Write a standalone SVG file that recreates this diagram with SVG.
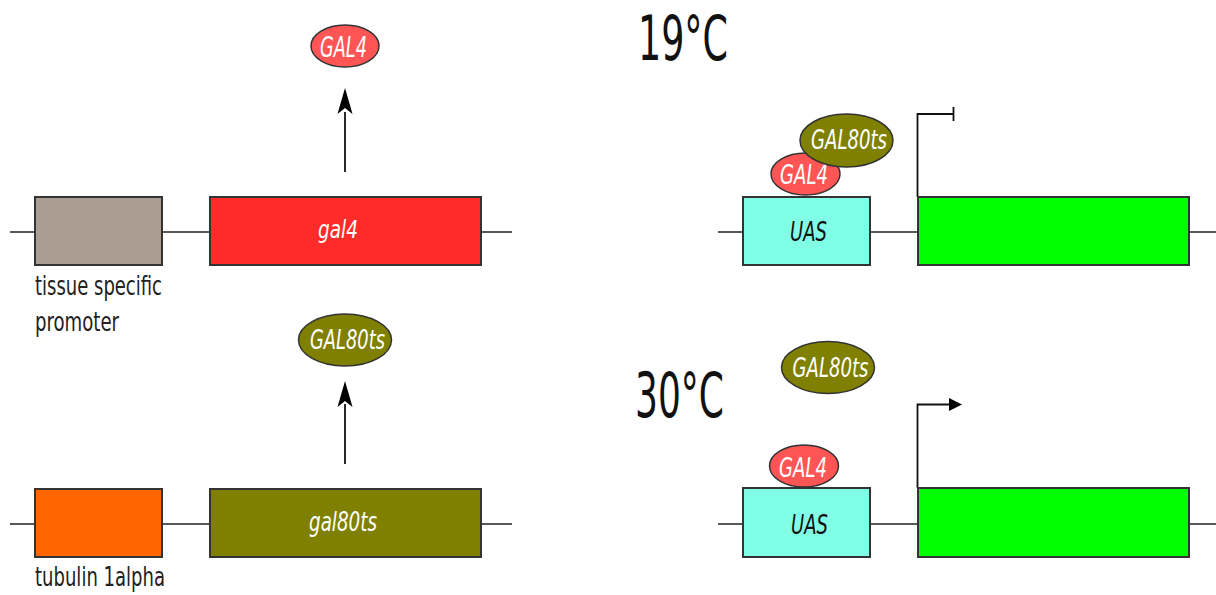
<svg xmlns="http://www.w3.org/2000/svg" width="1216" height="595" viewBox="0 0 1216 595">
<style>
.box{stroke:#333;stroke-width:2}
.dna{stroke:#222;stroke-width:1.6;fill:none}
.con{stroke:#111;stroke-width:1.8;fill:none}
.ell{stroke:#333;stroke-width:1.5}
.t{font-family:"DejaVu Sans","Liberation Sans",sans-serif}
.it{font-style:italic;fill:#fff}
.lbl{fill:#222;font-size:26px}
.big{fill:#111;font-size:62px}
</style>
<rect width="1216" height="595" fill="#fff"/>
<g id="connectors">
<line class="dna" x1="10" y1="232" x2="512" y2="232"/>
<line class="dna" x1="10" y1="524" x2="512" y2="524"/>
<line class="dna" x1="718" y1="232" x2="1216" y2="232"/>
<line class="dna" x1="718" y1="524" x2="1216" y2="524"/>
<path class="con" d="M345,172 V112"/>
<path d="M345,88 L352.5,114 L345,108 L337.5,114 Z" fill="#000"/>
<path class="con" d="M345,464 V404"/>
<path d="M345,381 L352.5,407 L345,401 L337.5,407 Z" fill="#000"/>
<path class="con" d="M917.5,197 V114 H953.5 M953.5,107 V121"/>
<path class="con" d="M917.5,488 V404.5 H950"/>
<path d="M949,398 L962,404.5 L949,411 Z" fill="#000"/>
</g>
<g id="promoter-tissue">
<rect class="box" x="35" y="197" width="127" height="68" fill="#ab9d92"/>
<text class="t lbl" x="35" y="295" textLength="127" lengthAdjust="spacingAndGlyphs">tissue specific</text>
<text class="t lbl" x="35" y="331" textLength="84" lengthAdjust="spacingAndGlyphs">promoter</text>
</g>
<g id="gene-gal4">
<rect class="box" x="210" y="197" width="271" height="68" fill="#ff2a2a"/>
<text class="t it" x="318" y="238" font-size="25" textLength="40" lengthAdjust="spacingAndGlyphs">gal4</text>
</g>
<g id="protein-gal4-top">
<ellipse class="ell" cx="345" cy="46" rx="34" ry="21" fill="#ff5555"/>
<text class="t it" x="320" y="57" font-size="28" textLength="47" lengthAdjust="spacingAndGlyphs">GAL4</text>
</g>
<g id="promoter-tubulin">
<rect class="box" x="35" y="489" width="127" height="68" fill="#ff6600"/>
<text class="t lbl" x="35" y="586" textLength="130" lengthAdjust="spacingAndGlyphs">tubulin 1alpha</text>
</g>
<g id="gene-gal80ts">
<rect class="box" x="210" y="489" width="271" height="68" fill="#808000"/>
<text class="t it" x="309" y="531" font-size="26" textLength="68" lengthAdjust="spacingAndGlyphs">gal80ts</text>
</g>
<g id="protein-gal80ts-left">
<ellipse class="ell" cx="345" cy="340" rx="46.5" ry="26" fill="#808000"/>
<text class="t it" x="310" y="349" font-size="27" textLength="75" lengthAdjust="spacingAndGlyphs">GAL80ts</text>
</g>
<g id="label-19C">
<text class="t big" x="638" y="60" textLength="90" lengthAdjust="spacingAndGlyphs">19°C</text>
</g>
<g id="uas-19">
<rect class="box" x="743" y="197" width="127" height="68" fill="#80ffe6"/>
<text class="t" x="790" y="241" font-size="27" font-style="italic" fill="#111" textLength="37" lengthAdjust="spacingAndGlyphs">UAS</text>
</g>
<g id="reporter-19">
<rect class="box" x="918" y="197" width="271" height="68" fill="#00ff00"/>
</g>
<g id="gal4-19">
<ellipse class="ell" cx="805.5" cy="174" rx="34.5" ry="21" fill="#ff5555"/>
<text class="t it" x="780" y="184" font-size="27" textLength="48" lengthAdjust="spacingAndGlyphs">GAL4</text>
</g>
<g id="gal80ts-19">
<ellipse class="ell" cx="846.5" cy="140.5" rx="46.5" ry="26.5" fill="#808000"/>
<text class="t it" x="811" y="149" font-size="27" textLength="76" lengthAdjust="spacingAndGlyphs">GAL80ts</text>
</g>
<g id="label-30C">
<text class="t big" x="635" y="417" textLength="89" lengthAdjust="spacingAndGlyphs">30°C</text>
</g>
<g id="gal80ts-30">
<ellipse class="ell" cx="828" cy="367.5" rx="46.5" ry="26" fill="#808000"/>
<text class="t it" x="792.5" y="377" font-size="27" textLength="76" lengthAdjust="spacingAndGlyphs">GAL80ts</text>
</g>
<g id="uas-30">
<rect class="box" x="743" y="488" width="127" height="69" fill="#80ffe6"/>
<text class="t" x="791" y="534" font-size="27" font-style="italic" fill="#111" textLength="37" lengthAdjust="spacingAndGlyphs">UAS</text>
</g>
<g id="reporter-30">
<rect class="box" x="918" y="488" width="271" height="69" fill="#00ff00"/>
</g>
<g id="gal4-30">
<ellipse class="ell" cx="804" cy="466" rx="34.5" ry="21" fill="#ff5555"/>
<text class="t it" x="779" y="477" font-size="27" textLength="48" lengthAdjust="spacingAndGlyphs">GAL4</text>
</g>
</svg>
